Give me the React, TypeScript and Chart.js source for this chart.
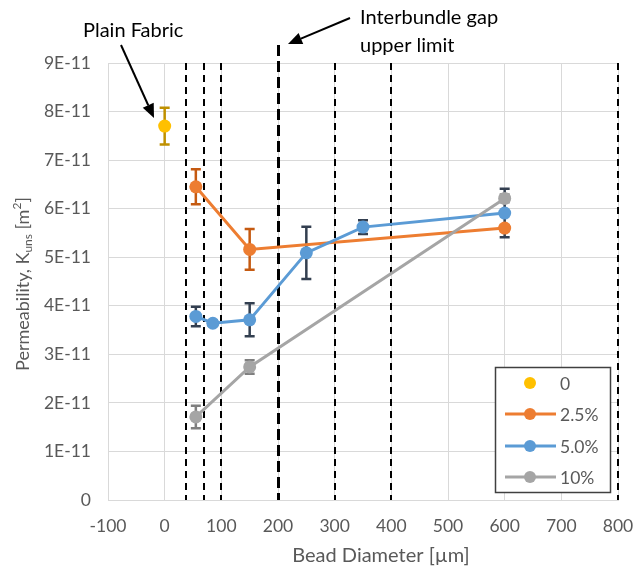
import React, { useEffect, useRef } from "react";
import { Chart, registerables } from "chart.js";

Chart.register(...registerables);

// ---------- data (values in m², x in µm) ----------
const plainX = [0];
const plainY = [7.7e-11];
const plainErr = [0.38e-11];

const s25X = [55, 150, 600];
const s25Y = [6.45e-11, 5.16e-11, 5.6e-11];
const s25Err = [0.36e-11, 0.42e-11, 0.06e-11];

const s50X = [55, 85, 150, 250, 350, 600];
const s50Y = [3.78e-11, 3.64e-11, 3.71e-11, 5.09e-11, 5.62e-11, 5.91e-11];
const s50Err = [0.2e-11, 0.05e-11, 0.34e-11, 0.54e-11, 0.14e-11, 0.5e-11];

const s10X = [55, 150, 600];
const s10Y = [1.71e-11, 2.74e-11, 6.21e-11];
const s10Err = [0.23e-11, 0.14e-11, 0.08e-11];

const seriesLabels = ["0", "2.5%", "5.0%", "10%"];
const boundaryLines = [38, 70, 100, 300, 400, 800];
const gapLimit = 200;

const FONT = "Lato, 'Open Sans', sans-serif";
const TEXT = "#595959";

const COLORS = ["#FFC000", "#ED7D31", "#5B9BD5", "#A5A5A5"];
const ERR_COLORS = ["#BF9000", "#C55A11", "#333F50", "#7F7F7F"];

const toPts = (xs: number[], ys: number[]) => xs.map((x, i) => ({ x, y: ys[i] }));

const errs = [plainErr, s25Err, s50Err, s10Err];

const overlayPlugin = {
  id: "overlay",
  beforeDatasetsDraw(chart: any) {
    const ctx = chart.ctx;
    const xs = chart.scales.x;
    const ys = chart.scales.y;
    const top = chart.chartArea.top;
    const bottom = chart.chartArea.bottom;
    ctx.save();
    // boundary dashed lines
    ctx.strokeStyle = "#000";
    ctx.lineWidth = 2;
    ctx.setLineDash([7, 5]);
    boundaryLines.forEach((v) => {
      const px = Math.round(xs.getPixelForValue(v));
      ctx.beginPath();
      ctx.moveTo(px, top);
      ctx.lineTo(px, bottom);
      ctx.stroke();
    });
    // interbundle limit thick dashed line
    ctx.lineWidth = 3;
    ctx.setLineDash([11, 5]);
    const gx = Math.round(xs.getPixelForValue(gapLimit)) + 0.5;
    ctx.beginPath();
    ctx.moveTo(gx, top - 18);
    ctx.lineTo(gx, bottom);
    ctx.stroke();
    ctx.setLineDash([]);

    // error bars
    chart.data.datasets.forEach((ds: any, di: number) => {
      ctx.strokeStyle = ERR_COLORS[di];
      ctx.lineWidth = 2.5;
      ds.data.forEach((p: any, i: number) => {
        const e = errs[di][i];
        const px = xs.getPixelForValue(p.x);
        const y1 = ys.getPixelForValue(p.y + e);
        const y2 = ys.getPixelForValue(p.y - e);
        ctx.beginPath();
        ctx.moveTo(px, y1);
        ctx.lineTo(px, y2);
        ctx.moveTo(px - 5, y1);
        ctx.lineTo(px + 5, y1);
        ctx.moveTo(px - 5, y2);
        ctx.lineTo(px + 5, y2);
        ctx.stroke();
      });
    });
    ctx.restore();
  },
  afterDraw(chart: any) {
    const ctx = chart.ctx;
    ctx.save();
    // annotations
    ctx.fillStyle = "#000";
    ctx.strokeStyle = "#000";
    ctx.font = `20px ${FONT}`;
    ctx.textBaseline = "middle";
    ctx.textAlign = "left";
    ctx.fillText("Plain Fabric", 83, 31);
    ctx.fillText("Interbundle gap", 360, 18);
    ctx.fillText("upper limit", 360, 46);

    const arrow = (x1: number, y1: number, x2: number, y2: number) => {
      const ang = Math.atan2(y2 - y1, x2 - x1);
      const hl = 14;
      const hw = 6;
      const bx = x2 - hl * Math.cos(ang);
      const by = y2 - hl * Math.sin(ang);
      ctx.lineWidth = 2;
      ctx.beginPath();
      ctx.moveTo(x1, y1);
      ctx.lineTo(bx, by);
      ctx.stroke();
      ctx.beginPath();
      ctx.moveTo(x2, y2);
      ctx.lineTo(bx + hw * Math.sin(ang), by - hw * Math.cos(ang));
      ctx.lineTo(bx - hw * Math.sin(ang), by + hw * Math.cos(ang));
      ctx.closePath();
      ctx.fill();
    };
    arrow(121, 45, 154, 118);
    arrow(350, 18, 288, 44);

    // axis titles
    ctx.fillStyle = TEXT;
    ctx.textAlign = "center";
    ctx.font = `20px ${FONT}`;
    ctx.fillText("Bead Diameter [µm]", 381, 556);

    // y title with sub/superscript
    const parts = [
      { t: "Permeability, K", s: 18, dy: 0 },
      { t: "uns", s: 12, dy: 5 },
      { t: " [m", s: 18, dy: 0 },
      { t: "2", s: 12, dy: -6 },
      { t: "]", s: 18, dy: 0 },
    ];
    let total = 0;
    parts.forEach((p) => {
      ctx.font = `${p.s}px ${FONT}`;
      total += ctx.measureText(p.t).width;
    });
    ctx.translate(23, 284);
    ctx.rotate(-Math.PI / 2);
    ctx.textAlign = "left";
    let cx = -total / 2;
    parts.forEach((p) => {
      ctx.font = `${p.s}px ${FONT}`;
      ctx.fillText(p.t, cx, p.dy);
      cx += ctx.measureText(p.t).width;
    });
    ctx.setTransform(1, 0, 0, 1, 0, 0);

    // legend
    const lx = 495, ly = 367, lw = 115, lh = 125;
    ctx.fillStyle = "#fff";
    ctx.fillRect(lx, ly, lw, lh);
    ctx.strokeStyle = "#404040";
    ctx.lineWidth = 1.5;
    ctx.strokeRect(lx + 0.5, ly + 0.5, lw, lh);
    const rowY = [383, 414, 446, 477];
    ctx.font = `17.5px ${FONT}`;
    ctx.textAlign = "left";
    ctx.textBaseline = "middle";
    seriesLabels.forEach((lab, i) => {
      const y = rowY[i];
      if (i > 0) {
        ctx.strokeStyle = COLORS[i];
        ctx.lineWidth = 3;
        ctx.beginPath();
        ctx.moveTo(505, y);
        ctx.lineTo(556, y);
        ctx.stroke();
      }
      ctx.fillStyle = COLORS[i];
      ctx.beginPath();
      ctx.arc(530, y, 6, 0, Math.PI * 2);
      ctx.fill();
      ctx.fillStyle = TEXT;
      ctx.fillText(lab, 560, y + 1);
    });
    ctx.restore();
  },
};

export default function App() {
  const ref = useRef<HTMLCanvasElement>(null);
  useEffect(() => {
    if (!ref.current) return;
    const mk = (label: string, data: any[], i: number, showLine: boolean, order: number) => ({
      label,
      data,
      showLine,
      order,
      borderColor: COLORS[i],
      backgroundColor: COLORS[i],
      pointBackgroundColor: COLORS[i],
      pointBorderColor: COLORS[i],
      pointBorderWidth: 0,
      pointRadius: 6.5,
      pointHoverRadius: 6.5,
      borderWidth: 3,
    });
    const chart = new Chart(ref.current, {
      type: "scatter",
      data: {
        datasets: [
          mk(seriesLabels[0], toPts(plainX, plainY), 0, false, 3),
          mk(seriesLabels[1], toPts(s25X, s25Y), 1, true, 2),
          mk(seriesLabels[2], toPts(s50X, s50Y), 2, true, 1),
          mk(seriesLabels[3], toPts(s10X, s10Y), 3, true, 0),
        ],
      },
      options: {
        animation: false,
        responsive: false,
        layout: { padding: { left: 0, right: 17, top: 63, bottom: 0 } },
        plugins: { legend: { display: false }, tooltip: { enabled: false } },
        scales: {
          x: {
            type: "linear",
            min: -100,
            max: 800,
            ticks: {
              stepSize: 100,
              color: TEXT,
              font: { family: FONT, size: 17.5 },
              padding: 16,
              maxRotation: 0,
            },
            grid: { color: "#D9D9D9", lineWidth: 1, drawTicks: false },
            border: { color: "#D9D9D9" },
            afterFit: (s: any) => {
              s.height = 74;
              s.paddingLeft = 0;
              s.paddingRight = 0;
            },
          },
          y: {
            type: "linear",
            min: 0,
            max: 9e-11,
            ticks: {
              stepSize: 1e-11,
              color: TEXT,
              font: { family: FONT, size: 17.5 },
              padding: 17,
              callback: (v: any) => {
                const n = Math.round(Number(v) / 1e-11);
                return n === 0 ? "0" : `${n}E-11`;
              },
            },
            grid: { color: "#D9D9D9", lineWidth: 1, drawTicks: false },
            border: { color: "#D9D9D9" },
            afterFit: (s: any) => {
              s.width = 108;
              s.paddingTop = 0;
              s.paddingBottom = 0;
            },
          },
        },
      },
      plugins: [overlayPlugin],
    });
    return () => chart.destroy();
  }, []);
  return (
    <div style={{ position: "absolute", left: 0, top: 0, width: 635, height: 574, background: "#fff" }}>
      <canvas ref={ref} width={635} height={574} />
    </div>
  );
}
